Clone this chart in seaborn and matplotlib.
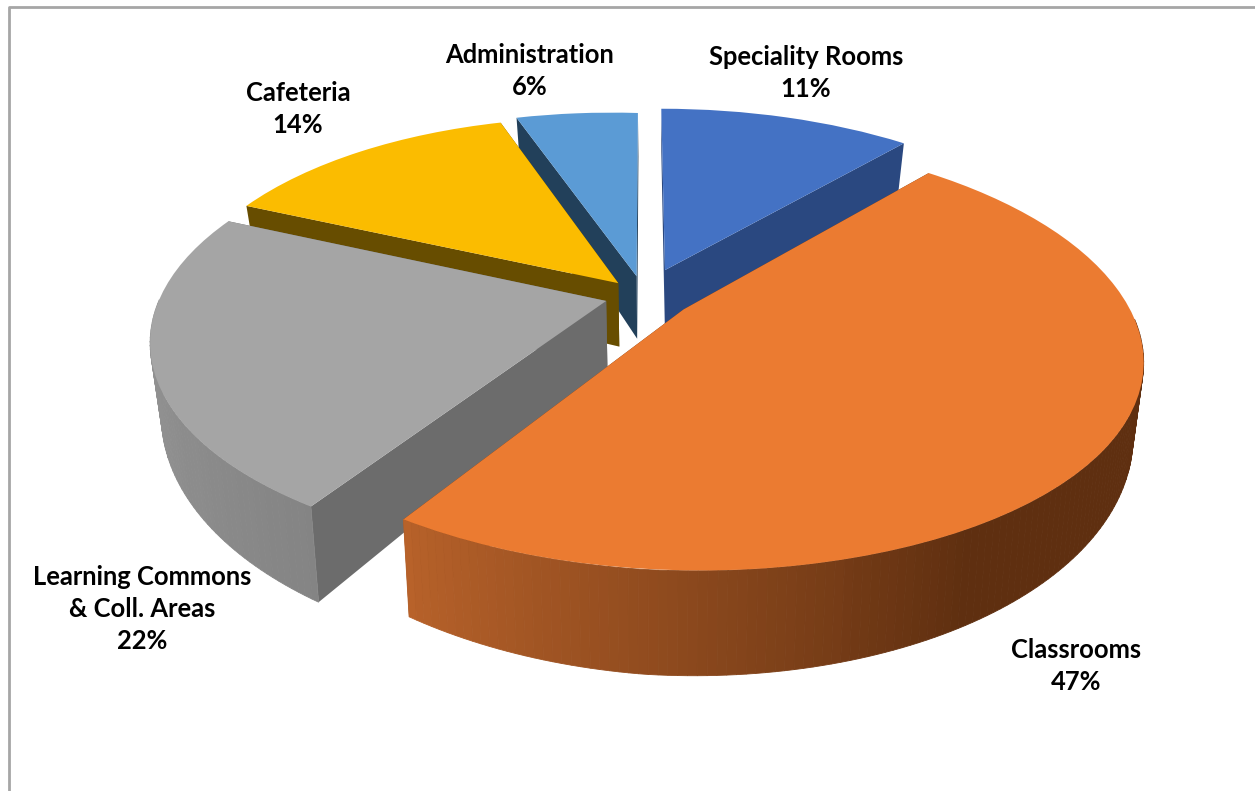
# 3D-look pie of floor area by space type, drawn from ax.pie wedges pushed
# through a small perspective transform.

import matplotlib
matplotlib.use("Agg")
import matplotlib.pyplot as plt
import numpy as np
import seaborn as sns
from matplotlib.transforms import Transform

categories = ["Speciality Rooms", "Classrooms", "Learning Commons\n& Coll. Areas", "Cafeteria", "Administration"]
shares = [11.4, 47.4, 22.2, 13.5, 5.5]
explode = [0.14, 0.11, 0.09, 0.085, 0.10]

top_colors = ["#4472C4", "#EB7B31", "#A5A5A5", "#FBBC00", "#5B9BD5"]
flat_colors = ["#2A4880", "#5F2F10", "#6C6C6C", "#674D00", "#22405A"]
side_light = ["#2A4880", "#B8622A", "#A0A0A0", "#674D00", "#22405A"]
side_dark = ["#2A4880", "#5F2F10", "#828282", "#674D00", "#22405A"]
ramp_start = [0, 150, 205, 0, 0]
draw_order = [0, 4, 3, 2, 1]

label_x = [806, 1076, 142, 298, 530]
label_y = [73, 666, 609, 109, 71]

# camera, in picture pixels
ORIGIN = (644, 296)
RX, RY = 440, 203
TILT_X = 0.22
TILT_Y = 0.2
ROLL = 10
DEPTH = 65
DEPTH_POWER = 2.0
VANISH_X = 662
LEAN = 0.022


def project(x, y, z=0.0):
    px = ORIGIN[0] + RX * x / (1.0 + TILT_X * y)
    s = 1.0 / (1.0 + TILT_Y * y)
    py = ORIGIN[1] - RY * y * s + ROLL * np.minimum(x, 0) + DEPTH * s**DEPTH_POWER * z
    return px + LEAN * (VANISH_X - px) * z, py


class Perspective(Transform):
    input_dims = output_dims = 2

    def transform_non_affine(self, values):
        values = np.asarray(values)
        return np.column_stack(project(values[:, 0], values[:, 1]))


sns.set_theme(style="white")
plt.rcParams["font.family"] = ["Lato", "DejaVu Sans"]

fig = plt.figure(figsize=(12.55, 7.91), dpi=100)
ax = fig.add_axes([0, 0, 1, 1])

wedges, _ = ax.pie(
    shares, explode=explode, colors=top_colors, startangle=90, counterclock=False, radius=1
)

for rank, i in enumerate(draw_order):
    w = wedges[i]
    base = 10 * (rank + 1)
    w.set_transform(Perspective() + ax.transData)
    w.set_zorder(base + 2)
    w.set_linewidth(0)

    cx, cy = w.center
    thetas = np.radians(np.arange(w.theta1, w.theta2 + 0.5, 1.0))
    thetas[-1] = np.radians(w.theta2)
    ramp = sns.blend_palette([side_dark[i], side_light[i]], 64)
    clock_end = (90 - w.theta1) % 360

    # the two cut faces
    for a in np.radians([w.theta1, w.theta2]):
        ox, oy = cx + np.cos(a), cy + np.sin(a)
        p = [project(cx, cy), project(ox, oy), project(ox, oy, 1), project(cx, cy, 1)]
        ax.fill(*zip(*p), color=flat_colors[i], lw=0, zorder=base)

    # outer wall, split in strips for the shading, only the part facing us
    for a, b in zip(thetas[:-1], thetas[1:]):
        if np.sin(a) > -0.05 and np.sin(b) > -0.05:
            continue
        ax_, ay_ = cx + np.cos(a), cy + np.sin(a)
        bx_, by_ = cx + np.cos(b), cy + np.sin(b)
        p = [project(ax_, ay_), project(bx_, by_), project(bx_, by_, 1), project(ax_, ay_, 1)]
        clock = (90 - np.degrees(a)) % 360
        t = np.clip((clock - ramp_start[i]) / (clock_end - ramp_start[i]), 0, 1)
        col = ramp[int(t * 63)]
        ax.fill(*zip(*p), color=col, lw=0.6, zorder=base + 1)

for name, share, x, y in zip(categories, shares, label_x, label_y):
    ax.text(x, y, f"{name}\n{share:.0f}%", ha="center", va="center", fontsize=18.4,
            fontweight="bold", color="black", linespacing=1.42, zorder=100)

# chart area border, only the top and left show
ax.plot([9, 9, 1255], [791, 7, 7], color="#A6A6A6", lw=2, zorder=1)

ax.set_aspect("auto")
ax.set_xlim(0, 1255)
ax.set_ylim(791, 0)
ax.axis("off")

fig.savefig("out.png", dpi=100)
